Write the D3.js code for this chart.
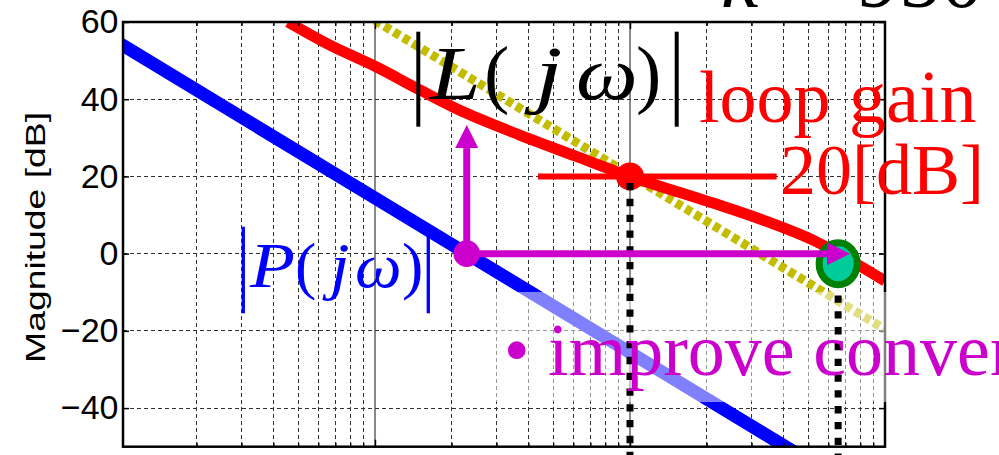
<!DOCTYPE html>
<html>
<head>
<meta charset="utf-8">
<script src="https://cdn.jsdelivr.net/npm/d3@7/dist/d3.min.js"></script>
<style>
  html, body { margin: 0; padding: 0; background: #fff; }
  svg { display: block; }
</style>
</head>
<body>
<svg id="chart" width="999" height="455"></svg>
<script>
// Bode magnitude: plant |P|, scaled plant k|P| and loop gain |L|
const freqP = [1, 10, 100, 1000];
const magP = [54.4, 14.4, -25.6, -65.6];

const freqKP = [10, 100, 1000];
const magKP = [60.4, 20.4, -19.6];

const freqL = [4.56, 6.66, 10.1, 15.0, 22.75, 37.0, 60.9, 100, 211.5, 332, 522, 798, 1000];
const magL = [60.0, 54.0, 48.4, 42.4, 36.4, 30.7, 25.3, 20.0, 13.1, 8.7, 3.5, -3.2, -7.1];

const yTicks = [-40, -20, 0, 20, 40, 60];
const yLabel = "Magnitude [dB]";

// annotation anchors (frequency in rad/s, magnitude in dB)
const wPzero = 22.9;          // |P(jw)| = 0 dB
const wL20 = 100;             // |L(jw)| = 20 dB
const gainLevel = 20;
const gainLineFreq = [43.6, 376];
const wCross = 655;           // new crossover
const crossMag = -2.6;
const arrowUpMag = 33.3;
const arrowRightFreq = 729;

const svg = d3.select("#chart");
const serif = "'Liberation Serif', 'Times New Roman', Times, serif";
const sans = "'Liberation Sans', Arial, Helvetica, sans-serif";

const x = d3.scaleLog().domain([1.028, 1000]).range([123, 885]);
const y = d3.scaleLinear().domain([-50, 60]).range([446.7, 22]);

const [x0, x1] = x.range();
const [yb, yt] = y.range();

svg.append("defs").append("clipPath").attr("id", "plotClip")
  .append("rect").attr("x", x0).attr("y", yt).attr("width", x1 - x0).attr("height", yb - yt);

// grid
const grid = svg.append("g").attr("shape-rendering", "crispEdges");
const minorFreqs = [];
for (const dec of [1, 10, 100]) for (let m = 2; m <= 9; m++) minorFreqs.push(dec * m);
const decadeFreqs = [10, 100];

grid.selectAll("line.minor").data(minorFreqs).join("line")
  .attr("x1", d => x(d)).attr("x2", d => x(d)).attr("y1", yt).attr("y2", yb)
  .attr("stroke", "#333").attr("stroke-width", 1).attr("stroke-dasharray", "4,3");
grid.selectAll("line.decade").data(decadeFreqs).join("line")
  .attr("x1", d => x(d)).attr("x2", d => x(d)).attr("y1", yt).attr("y2", yb)
  .attr("stroke", "#888").attr("stroke-width", 2);
grid.selectAll("line.h").data(yTicks.filter(t => t < 60)).join("line")
  .attr("x1", x0).attr("x2", x1).attr("y1", d => y(d)).attr("y2", d => y(d))
  .attr("stroke", "#333").attr("stroke-width", 1).attr("stroke-dasharray", "4,3");

// curves
const curves = svg.append("g").attr("clip-path", "url(#plotClip)");
const straight = d3.line().x(d => x(d[0])).y(d => y(d[1]));
const smooth = d3.line().x(d => x(d[0])).y(d => y(d[1])).curve(d3.curveCatmullRom.alpha(0.5));

curves.append("path")
  .datum(d3.zip(freqKP, magKP))
  .attr("d", straight)
  .attr("fill", "none").attr("stroke", "#c4bc00").attr("stroke-width", 9)
  .attr("stroke-dasharray", "7,4");

curves.append("path")
  .datum(d3.zip(freqL, magL))
  .attr("d", smooth)
  .attr("fill", "none").attr("stroke", "#ff0000").attr("stroke-width", 11)
  .attr("stroke-linejoin", "round");

curves.append("path")
  .datum(d3.zip(freqP, magP))
  .attr("d", straight)
  .attr("fill", "none").attr("stroke", "#0000ff").attr("stroke-width", 13);

// 20 dB level marker
svg.append("line")
  .attr("x1", x(gainLineFreq[0])).attr("x2", x(gainLineFreq[1]))
  .attr("y1", y(gainLevel)).attr("y2", y(gainLevel))
  .attr("stroke", "#ff0000").attr("stroke-width", 6);
svg.append("circle")
  .attr("cx", x(wL20)).attr("cy", y(gainLevel)).attr("r", 14)
  .attr("fill", "#ff0000");

// axes box and ticks
const axes = svg.append("g");
axes.append("g").attr("transform", `translate(${x0},0)`)
  .call(d3.axisLeft(y).tickValues(yTicks).tickSize(-6).tickPadding(4.5))
  .call(g => g.select(".domain").remove())
  .call(g => g.selectAll("line").attr("stroke", "#000").attr("stroke-width", 1.5))
  .call(g => g.selectAll("text").attr("font-family", sans).attr("font-size", 34).attr("fill", "#000"));
axes.append("g").attr("transform", `translate(${x1},0)`)
  .call(d3.axisRight(y).tickValues(yTicks).tickSize(-6).tickFormat(""))
  .call(g => g.select(".domain").remove())
  .call(g => g.selectAll("line").attr("stroke", "#000").attr("stroke-width", 1.5));
for (const [pos, gen] of [[yb, d3.axisBottom], [yt, d3.axisTop]]) {
  axes.append("g").attr("transform", `translate(0,${pos})`)
    .call(gen(x).tickValues(decadeFreqs).tickSize(-7).tickFormat(""))
    .call(g => g.select(".domain").remove())
    .call(g => g.selectAll("line").attr("stroke", "#000").attr("stroke-width", 1.5));
  axes.append("g").attr("transform", `translate(0,${pos})`)
    .call(gen(x).tickValues(minorFreqs).tickSize(-4).tickFormat(""))
    .call(g => g.select(".domain").remove())
    .call(g => g.selectAll("line").attr("stroke", "#000").attr("stroke-width", 1.2));
}
axes.append("rect")
  .attr("x", x0).attr("y", yt).attr("width", x1 - x0).attr("height", yb - yt)
  .attr("fill", "none").attr("stroke", "#000").attr("stroke-width", 2.5);

axes.append("text")
  .attr("transform", `translate(44.5,237.4) rotate(-90)`)
  .attr("text-anchor", "middle")
  .attr("font-family", sans).attr("font-size", 27.5)
  .attr("textLength", 251).attr("lengthAdjust", "spacingAndGlyphs")
  .text(yLabel);

// translucent backing of the bullet text
svg.append("rect")
  .attr("x", 490).attr("y", 292).attr("width", 509).attr("height", 110)
  .attr("fill", "#fff").attr("fill-opacity", 0.5);

// dotted drop lines
svg.append("line")
  .attr("x1", x(wL20)).attr("x2", x(wL20)).attr("y1", y(gainLevel)).attr("y2", 462)
  .attr("stroke", "#000").attr("stroke-width", 7)
  .attr("stroke-dasharray", "7.3,8.5").attr("stroke-dashoffset", 9.2);
svg.append("line")
  .attr("x1", x(wCross)).attr("x2", x(wCross)).attr("y1", y(crossMag) + 16).attr("y2", 462)
  .attr("stroke", "#000").attr("stroke-width", 7)
  .attr("stroke-dasharray", "7.3,8.5");

// crossover marker
svg.append("ellipse")
  .attr("cx", x(wCross)).attr("cy", y(crossMag)).attr("rx", 19).attr("ry", 21)
  .attr("fill", "#00cc99").attr("stroke", "#008000").attr("stroke-width", 7);

// magenta arrows from the |P| = 0 dB point
const mag = "#cc00cc";
const px = x(wPzero), py = y(0);
const head = 23, half = 11.5;
const upTip = y(arrowUpMag), rightTip = x(arrowRightFreq);
svg.append("line").attr("x1", px).attr("x2", px).attr("y1", py).attr("y2", upTip + head)
  .attr("stroke", mag).attr("stroke-width", 7);
svg.append("path")
  .attr("d", `M${px},${upTip}L${px - half},${upTip + head}L${px + half},${upTip + head}Z`)
  .attr("fill", mag);
svg.append("line").attr("x1", px).attr("x2", rightTip - head).attr("y1", py).attr("y2", py)
  .attr("stroke", mag).attr("stroke-width", 7);
svg.append("path")
  .attr("d", `M${rightTip},${py}L${rightTip - head},${py - half}L${rightTip - head},${py + half}Z`)
  .attr("fill", mag);
svg.append("circle").attr("cx", px).attr("cy", py).attr("r", 13.3).attr("fill", mag);

// math labels: each glyph placed and widened separately
const lab = svg.append("g").attr("font-family", serif);
function mathLabel(glyphs, baseline, size, color) {
  for (const gl of glyphs) {
    lab.append("text")
      .attr("transform", `translate(${gl.x},${baseline}) scale(${gl.sx || 1},1)`)
      .attr("font-size", size).attr("fill", color)
      .attr("font-style", gl.it ? "italic" : "normal")
      .text(gl.t);
  }
}
function bars(xs, ya, yb2, color, w) {
  for (const bx of xs) {
    lab.append("line").attr("x1", bx).attr("x2", bx).attr("y1", ya).attr("y2", yb2)
      .attr("stroke", color).attr("stroke-width", w);
  }
}

// |L(jw)|
bars([418.3, 676.7], 31.7, 126.7, "#000", 4);
mathLabel([
  { t: "L", x: 430, it: true, sx: 1.2 },
  { t: "(", x: 484 },
  { t: "j", x: 535, it: true, sx: 1.3 },
  { t: "ω", x: 576, it: true, sx: 1.15 },
  { t: ")", x: 636 }
], 99, 76, "#000");

// |P(jw)|
bars([243.3, 428.3], 226.7, 313.3, "#0000ff", 3.3);
mathLabel([
  { t: "P", x: 250, it: true, sx: 1.15 },
  { t: "(", x: 295 },
  { t: "j", x: 330, it: true, sx: 1.1 },
  { t: "ω", x: 355, it: true, sx: 1.03 },
  { t: ")", x: 402 }
], 286.7, 64, "#0000ff");

// red annotations
lab.append("text").attr("x", 699).attr("y", 121.7).attr("font-size", 74).attr("fill", "#ff0000")
  .text("loop gain");
lab.append("text").attr("x", 780).attr("y", 194).attr("font-size", 72).attr("fill", "#ff0000")
  .text("20[dB]");

// gain value at the top edge
const kt = lab.append("text").attr("y", 7).attr("font-size", 84).attr("fill", "#000");
kt.append("tspan").attr("x", 721).attr("font-style", "italic").text("k");
kt.append("tspan").attr("x", 785).text("=");
kt.append("tspan").attr("x", 857).text("950");

// bullet text
lab.append("text").attr("x", 503.7).attr("y", 375).attr("font-size", 74).attr("fill", mag)
  .text("• improve convergence");
</script>
</body>
</html>
